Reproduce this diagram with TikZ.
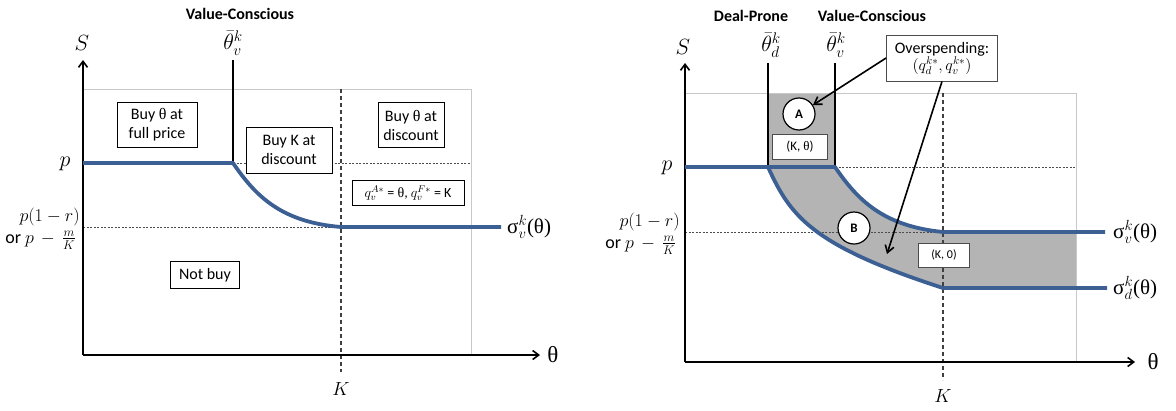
\documentclass[tikz,border=0pt]{standalone}
\usepackage{fix-cm}
\usepackage{fontspec}
\setmainfont{Carlito}
\newfontfamily\symf{Liberation Serif}
\usetikzlibrary{arrows.meta}
\definecolor{curveblue}{RGB}{60,96,148}
\definecolor{framegray}{RGB}{200,200,200}
\definecolor{fillgray}{RGB}{180,180,180}
\begin{document}
\begin{tikzpicture}[x=1pt,y=-1pt,
  axis/.style={line width=1.6pt, -{Straight Barb[length=6pt,width=9pt]}},
  frame/.style={draw=framegray, line width=0.9pt},
  sigma/.style={draw=curveblue, line width=3.8pt, line join=round},
  thresh/.style={line width=1.8pt},
  kline/.style={draw=black!75, line width=1.1pt, dash pattern=on 4pt off 3pt},
  guide/.style={draw=black!70, line width=0.7pt, dash pattern=on 2pt off 1.5pt},
  lbl/.style={draw, line width=0.8pt, fill=white, align=center, font=\fontsize{16}{19}\selectfont, inner sep=0pt},
  small/.style={draw=black!70, line width=0.8pt, fill=white, font=\fontsize{13}{15}\selectfont, inner sep=0pt},
  circ/.style={circle, draw, line width=1.2pt, fill=white, minimum size=32pt, inner sep=0pt, font=\bfseries\fontsize{13}{15}\selectfont},
  head/.style={font=\bfseries\fontsize{16}{19}\selectfont},
  mlab/.style={font=\fontsize{22}{26}\selectfont, inner sep=0pt},
  slab/.style={font=\fontsize{18}{20}\selectfont, inner sep=0pt, align=right},
  pointer/.style={line width=1.6pt, -{Straight Barb[length=7pt,width=9pt]}}
]
\useasboundingbox (0,0) rectangle (1176,410);

%% ---------------- Left panel ----------------
\coordinate (O1) at (83,355);
\coordinate (Y1) at (83,60);
\coordinate (X1) at (540,355);
\draw[frame] (83,89) -- (471,89) -- (471,355);
\draw[guide] (233,163) -- (471,163);
\draw[guide] (83,227) -- (341,227);
\draw[kline] (341,89) -- (341,372);
\draw[axis] (O1) -- (Y1);
\draw[axis] (O1) -- (X1);
\draw[thresh] (233,60) -- (233,163);
\draw[sigma] (83,163) -- (233,163) .. controls (255,195) and (280,222) .. (341,227) -- (501,227);

\node[head] (vc1) at (240,14) {Value-Conscious};
\node[mlab] (th1) at (233,43) {$\bar{\theta}^k_v$};
\node[mlab] (S1) at (82,43) {$S$};
\node[mlab] (p1) at (65,164) {$p$};
\node[slab, anchor=east] (pr1) at (80,217) {$p(1-r)$};
\node[slab, anchor=east] (pm1) at (76,240) {or $p\,-\,\frac{m}{K}$};
\node[mlab, font=\fontsize{23}{26}\selectfont] (xl1) at (553,355) {\symf θ};
\node[mlab, font=\fontsize{19}{22}\selectfont] (K1) at (341,389) {$K$};
\node[mlab, anchor=west, font=\fontsize{21}{24}\selectfont] (sv1) at (507,227) {{\symf σ}$^k_v${\symf (θ)}};

\node[lbl, minimum width=80pt, minimum height=45pt] (b1) at (157,125) {Buy {\symf θ} at\\full price};
\node[lbl, minimum width=86pt, minimum height=46pt] (b2) at (289,150) {Buy K at\\discount};
\node[lbl, minimum width=66pt, minimum height=45pt] (b3) at (411,125) {Buy {\symf θ} at\\discount};
\node[lbl, minimum width=112pt, minimum height=25pt, font=\fontsize{14}{16}\selectfont] (b4) at (408,193) {$q_v^{A*}$ = {\symf θ}, $q_v^{F*}$ = K};
\node[lbl, minimum width=69pt, minimum height=27pt] (b5) at (205,275) {Not buy};

%% ---------------- Right panel ----------------
\coordinate (O2) at (685,362);
\coordinate (Y2) at (685,63);
\coordinate (X2) at (1135,362);
\fill[fillgray] (768,93) -- (835,93) -- (835,167)
  .. controls (857,199) and (882,226) .. (943,232) -- (1076,232) -- (1076,288) -- (943,288)
  .. controls (810,245) and (790,215) .. (768,167) -- cycle;
\draw[frame] (685,93) -- (1076,93) -- (1076,362);
\draw[guide] (835,167) -- (1076,167);
\draw[guide] (685,232) -- (943,232);
\draw[kline] (943,93) -- (943,380);
\draw[axis] (O2) -- (Y2);
\draw[axis] (O2) -- (X2);
\draw[thresh] (768,63) -- (768,167);
\draw[thresh] (835,63) -- (835,167);
\draw[sigma] (685,167) -- (835,167) .. controls (857,199) and (882,226) .. (943,232) -- (1105,232);
\draw[sigma] (768,167) .. controls (790,215) and (810,245) .. (943,288) -- (1107,288);

\node[head] (dp2) at (751,16) {Deal-Prone};
\node[head] (vc2) at (872,16) {Value-Conscious};
\node[mlab] (thd2) at (771,45) {$\bar{\theta}^k_d$};
\node[mlab] (thv2) at (836,45) {$\bar{\theta}^k_v$};
\node[mlab] (S2) at (683,47) {$S$};
\node[mlab] (p2) at (667,168) {$p$};
\node[slab, anchor=east] (pr2) at (680,222) {$p(1-r)$};
\node[slab, anchor=east] (pm2) at (676,245) {or $p\,-\,\frac{m}{K}$};
\node[mlab, font=\fontsize{23}{26}\selectfont] (xl2) at (1153,362) {\symf θ};
\node[mlab, font=\fontsize{19}{22}\selectfont] (K2) at (943,396) {$K$};
\node[mlab, anchor=west, font=\fontsize{21}{24}\selectfont] (sv2) at (1113,232) {{\symf σ}$^k_v${\symf (θ)}};
\node[mlab, anchor=west, font=\fontsize{21}{24}\selectfont] (sd2) at (1113,288) {{\symf σ}$^k_d${\symf (θ)}};

\node[circ] (cA) at (799,114) {A};
\node[circ] (cB) at (854,228) {B};
\node[small, minimum width=55pt, minimum height=25pt] (kt) at (800,147) {(K, {\symf θ})};
\node[small, minimum width=51pt, minimum height=24pt, font=\fontsize{12}{14}\selectfont] (k0) at (944,255) {(K, 0)};
\node[lbl, draw=black!70, minimum width=111pt, minimum height=46pt] (ovr) at (942,58) {Overspending:\\[-2pt]$(q_d^{k*}, q_v^{k*})$};
\coordinate (bend) at (887,254);
\draw[pointer] (ovr.west) -- (cA);
\draw[pointer] (ovr.south) -- (bend);
\end{tikzpicture}
\end{document}
